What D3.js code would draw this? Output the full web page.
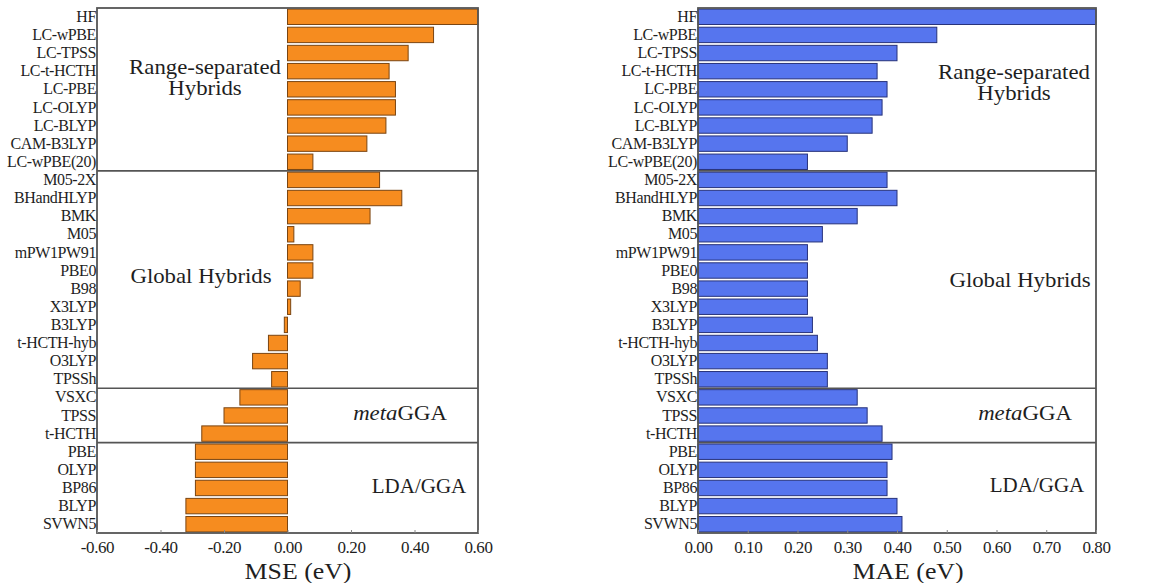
<!DOCTYPE html>
<html>
<head>
<meta charset="utf-8">
<script src="https://cdn.jsdelivr.net/npm/d3@7/dist/d3.min.js"></script>
<style>
  html, body { margin: 0; padding: 0; background: #fff; }
  svg { display: block; }
  svg text { font-family: 'Liberation Serif', 'Times New Roman', Times, Tinos, 'DejaVu Serif', serif !important; fill: #1e1e1e; }
</style>
</head>
<body>
<svg id="chart" width="1163" height="583"></svg>
<script>
// Functionals, top to bottom
const functionals = [
  "HF", "LC-wPBE", "LC-TPSS", "LC-t-HCTH", "LC-PBE", "LC-OLYP", "LC-BLYP", "CAM-B3LYP", "LC-wPBE(20)",
  "M05-2X", "BHandHLYP", "BMK", "M05", "mPW1PW91", "PBE0", "B98", "X3LYP", "B3LYP", "t-HCTH-hyb", "O3LYP", "TPSSh",
  "VSXC", "TPSS", "t-HCTH",
  "PBE", "OLYP", "BP86", "BLYP", "SVWN5"
];

// Mean signed error (eV)
const mse = [
  0.60, 0.46, 0.38, 0.32, 0.34, 0.34, 0.31, 0.25, 0.08,
  0.29, 0.36, 0.26, 0.02, 0.08, 0.08, 0.04, 0.01, -0.01, -0.06, -0.11, -0.05,
  -0.15, -0.20, -0.27,
  -0.29, -0.29, -0.29, -0.32, -0.32
];

// Mean absolute error (eV)
const mae = [
  0.80, 0.48, 0.40, 0.36, 0.38, 0.37, 0.35, 0.30, 0.22,
  0.38, 0.40, 0.32, 0.25, 0.22, 0.22, 0.22, 0.22, 0.23, 0.24, 0.26, 0.26,
  0.32, 0.34, 0.37,
  0.39, 0.38, 0.38, 0.40, 0.41
];

// Functional families: first member of each group
const groupStarts = ["HF", "M05-2X", "VSXC", "PBE"];

const mseTicks = [-0.6, -0.4, -0.2, 0.0, 0.2, 0.4, 0.6];
const maeTicks = [0.0, 0.1, 0.2, 0.3, 0.4, 0.5, 0.6, 0.7, 0.8];

const svg = d3.select("#chart");
const plotTop = 8, plotBottom = 533;

const y = d3.scaleBand()
  .domain(functionals)
  .range([plotTop, plotBottom])
  .paddingInner(0.15)
  .paddingOuter(0.06);

// text drawn slightly wide, as in the original typesetting
function wideText(g, x, yy, size, sx) {
  return g.append("text")
    .attr("transform", `translate(${x},${yy}) scale(${sx},1)`)
    .attr("text-anchor", "middle")
    .attr("font-size", size);
}

function panel(opts) {
  const { x0, x1, domain, values, ticks, fill, stroke, title, titleX, labels } = opts;
  const x = d3.scaleLinear().domain(domain).range([x0, x1]);
  const g = svg.append("g");

  // group separators
  groupStarts.slice(1).forEach(name => {
    const yy = y(name) - y.step() * y.paddingInner() / 2;
    g.append("line")
      .attr("x1", x0).attr("x2", x1)
      .attr("y1", yy).attr("y2", yy)
      .attr("stroke", "#555").attr("stroke-width", 1.6);
  });

  // bars
  const base = x(Math.max(0, domain[0]));
  g.selectAll("rect.bar")
    .data(functionals.map((f, i) => ({ f, v: values[i] })))
    .join("rect")
    .attr("class", "bar")
    .attr("x", d => Math.min(base, x(d.v)))
    .attr("y", d => y(d.f))
    .attr("width", d => Math.abs(x(d.v) - base))
    .attr("height", y.bandwidth())
    .attr("fill", fill)
    .attr("stroke", stroke)
    .attr("stroke-width", 1);

  // frame
  g.append("rect")
    .attr("x", x0).attr("y", plotTop)
    .attr("width", x1 - x0).attr("height", plotBottom - plotTop)
    .attr("fill", "none")
    .attr("stroke", "#555").attr("stroke-width", 1.8);

  // x axis
  const axis = d3.axisBottom(x)
    .tickValues(ticks)
    .tickSize(-3)
    .tickPadding(8);
  const ax = g.append("g").attr("transform", `translate(0,${plotBottom})`).call(axis);
  ax.attr("font-family", null);
  ax.select(".domain").remove();
  ax.selectAll(".tick line").attr("stroke", "#888");
  ax.selectAll(".tick text")
    .attr("font-size", 17)
    .attr("letter-spacing", "-0.4px")
    .text(d => (d < 0 ? "-" : "") + d3.format(".2f")(Math.abs(d)));

  // category labels
  const ay = d3.axisLeft(y).tickSize(0).tickPadding(1);
  const yg = g.append("g").attr("transform", `translate(${x0},0)`).call(ay);
  yg.attr("font-family", null);
  yg.select(".domain").remove();
  yg.selectAll(".tick text")
    .attr("font-size", 16)
    .attr("letter-spacing", "-0.4px");

  // axis title
  wideText(g, titleX, 579, 23.5, 1.1).text(title);

  // family labels
  labels.forEach(l => {
    const t = wideText(g, l.x, l.y, 20, l.sx || 1.14);
    l.parts.forEach(p => {
      t.append("tspan").attr("font-style", p.italic ? "italic" : null).text(p.t);
    });
  });
}

panel({
  x0: 97, x1: 478,
  domain: [-0.6, 0.6],
  values: mse,
  ticks: mseTicks,
  fill: "#F68C1F", stroke: "#7a4512",
  title: "MSE (eV)", titleX: 298,
  labels: [
    { x: 205, y: 74, parts: [{ t: "Range-separated" }] },
    { x: 205, y: 95, parts: [{ t: "Hybrids" }] },
    { x: 201, y: 283, parts: [{ t: "Global Hybrids" }] },
    { x: 400, y: 420, parts: [{ t: "meta", italic: true }, { t: "GGA" }] },
    { x: 419, y: 493, sx: 1.05, parts: [{ t: "LDA/GGA" }] }
  ]
});

panel({
  x0: 698, x1: 1096,
  domain: [0, 0.8],
  values: mae,
  ticks: maeTicks,
  fill: "#5675EE", stroke: "#27327a",
  title: "MAE (eV)", titleX: 908,
  labels: [
    { x: 1014, y: 79, parts: [{ t: "Range-separated" }] },
    { x: 1014, y: 100, parts: [{ t: "Hybrids" }] },
    { x: 1020, y: 287, parts: [{ t: "Global Hybrids" }] },
    { x: 1025, y: 420, parts: [{ t: "meta", italic: true }, { t: "GGA" }] },
    { x: 1037, y: 492, sx: 1.05, parts: [{ t: "LDA/GGA" }] }
  ]
});
</script>
</body>
</html>
